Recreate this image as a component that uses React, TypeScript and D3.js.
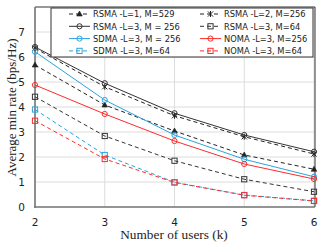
import React from "react";
import * as d3 from "d3";

const users = [2, 3, 4, 5, 6];
const yTicks = [0, 1, 2, 3, 4, 5, 6, 7];

const rsmaL1M529 = [5.68, 4.08, 3.04, 2.08, 1.51];
const rsmaL2M256 = [6.35, 4.81, 3.65, 2.81, 2.12];
const rsmaL3M256 = [6.4, 4.95, 3.75, 2.88, 2.21];
const rsmaL3M64 = [4.41, 2.84, 1.85, 1.11, 0.61];
const sdmaL3M256 = [6.21, 4.28, 2.88, 1.91, 1.21];
const nomaL3M256 = [4.88, 3.72, 2.64, 1.72, 1.12];
const sdmaL3M64 = [3.9, 2.08, 0.99, 0.48, 0.25];
const nomaL3M64 = [3.45, 1.92, 0.98, 0.47, 0.24];

type S = { name: string; values: number[]; color: string; dash?: string; marker: string };

const series: S[] = [
  { name: "RSMA -L=1, M=529", values: rsmaL1M529, color: "#222", dash: "4,3", marker: "tri" },
  { name: "RSMA -L=2, M=256", values: rsmaL2M256, color: "#222", dash: "4,3", marker: "star" },
  { name: "RSMA -L=3, M = 256", values: rsmaL3M256, color: "#333", marker: "circle" },
  { name: "RSMA -L=3, M=64", values: rsmaL3M64, color: "#333", dash: "4,3", marker: "square" },
  { name: "SDMA -L=3, M = 256", values: sdmaL3M256, color: "#29a3dc", marker: "circle" },
  { name: "NOMA -L=3, M=256", values: nomaL3M256, color: "#ff2a2a", marker: "circle" },
  { name: "SDMA -L=3, M=64", values: sdmaL3M64, color: "#29a3dc", dash: "4,3", marker: "square" },
  { name: "NOMA -L=3, M=64", values: nomaL3M64, color: "#ff2a2a", dash: "4,3", marker: "square" },
];

function Marker({ type, x, y, color }: { type: string; x: number; y: number; color: string }) {
  const r = 2.6;
  if (type === "circle")
    return <circle cx={x} cy={y} r={r} fill="none" stroke={color} strokeWidth={1} />;
  if (type === "square")
    return <rect x={x - r} y={y - r} width={2 * r} height={2 * r} fill="none" stroke={color} strokeWidth={1} />;
  if (type === "tri")
    return (
      <path d={`M${x},${y - 3}L${x + 2.8},${y + 2}L${x - 2.8},${y + 2}Z`} fill={color} stroke={color} strokeWidth={0.6} />
    );
  return (
    <path
      d={`M${x - 2.6},${y - 2.6}L${x + 2.6},${y + 2.6}M${x - 2.6},${y + 2.6}L${x + 2.6},${y - 2.6}M${x},${y - 3}L${x},${y + 3}`}
      stroke={color}
      strokeWidth={1}
    />
  );
}

export default function App() {
  const W = 324, H = 243;
  const left = 35, right = 315, top = 7, bottom = 207;
  const x = d3.scaleLinear().domain([2, 6]).range([left, 314]);
  const y = d3.scaleLinear().domain([0, 8]).range([bottom, top]);
  const line = d3
    .line<number>()
    .x((_, i) => x(users[i]))
    .y((d) => y(d));

  const legX = [69, 200];
  const legY = [14, 26.3, 38.6, 50.9];

  return (
    <svg width={W} height={H} style={{ position: "absolute", left: 0, top: 0 }}>
      <rect x={0} y={0} width={W} height={H} fill="#fff" />
      {yTicks.map((t) => (
        <line key={"gy" + t} x1={left} x2={right} y1={y(t)} y2={y(t)} stroke="#dcdcdc" strokeWidth={1} />
      ))}
      {users.map((u) => (
        <line key={"gx" + u} x1={x(u)} x2={x(u)} y1={top} y2={bottom} stroke="#dcdcdc" strokeWidth={1} />
      ))}
      <line x1={left} x2={right} y1={top} y2={top} stroke="#333" strokeWidth={1} />
      <line x1={right} x2={right} y1={top} y2={bottom} stroke="#333" strokeWidth={1} />
      <line x1={left} x2={left} y1={top} y2={bottom + 1} stroke="#777" strokeWidth={1.6} />
      <line x1={left - 0.8} x2={right} y1={bottom} y2={bottom} stroke="#777" strokeWidth={1.6} />

      {series.map((s) => (
        <g key={s.name}>
          <path d={line(s.values) || ""} fill="none" stroke={s.color} strokeWidth={1} strokeDasharray={s.dash} />
          {s.values.map((v, i) => (
            <Marker key={i} type={s.marker} x={x(users[i])} y={y(v)} color={s.color} />
          ))}
        </g>
      ))}

      <rect x={51} y={8} width={262} height={49} fill="#fff" stroke="#333" strokeWidth={1} />
      {series.map((s, i) => {
        const col = i % 2;
        const row = Math.floor(i / 2);
        const lx = legX[col];
        const ly = legY[row];
        return (
          <g key={"leg" + i}>
            <line x1={lx} x2={lx + 21} y1={ly} y2={ly} stroke={s.color} strokeWidth={1} strokeDasharray={s.dash} />
            <Marker type={s.marker} x={lx + 10.5} y={ly} color={s.color} />
            <text x={lx + 24} y={ly + 3.2} fontFamily="DejaVu Sans" fontSize={8.3} fill="#222">
              {s.name}
            </text>
          </g>
        );
      })}

      {yTicks.map((t) => (
        <text key={"yt" + t} x={25} y={y(t) + 3.8} textAnchor="end" fontFamily="DejaVu Sans" fontSize={10.5} fill="#222">
          {t}
        </text>
      ))}
      {users.map((u) => (
        <text key={"xt" + u} x={x(u)} y={225.5} textAnchor="middle" fontFamily="DejaVu Sans" fontSize={10.5} fill="#222">
          {u}
        </text>
      ))}
      <text x={174} y={238.5} textAnchor="middle" fontFamily="Liberation Serif" fontSize={13.3} fill="#222">
        Number of users (k)
      </text>
      <text
        transform={`translate(15.5,107.5) rotate(-90)`}
        textAnchor="middle"
        fontFamily="Liberation Serif"
        fontSize={13}
        fill="#222"
      >
        Average min rate (bps/Hz)
      </text>
    </svg>
  );
}
